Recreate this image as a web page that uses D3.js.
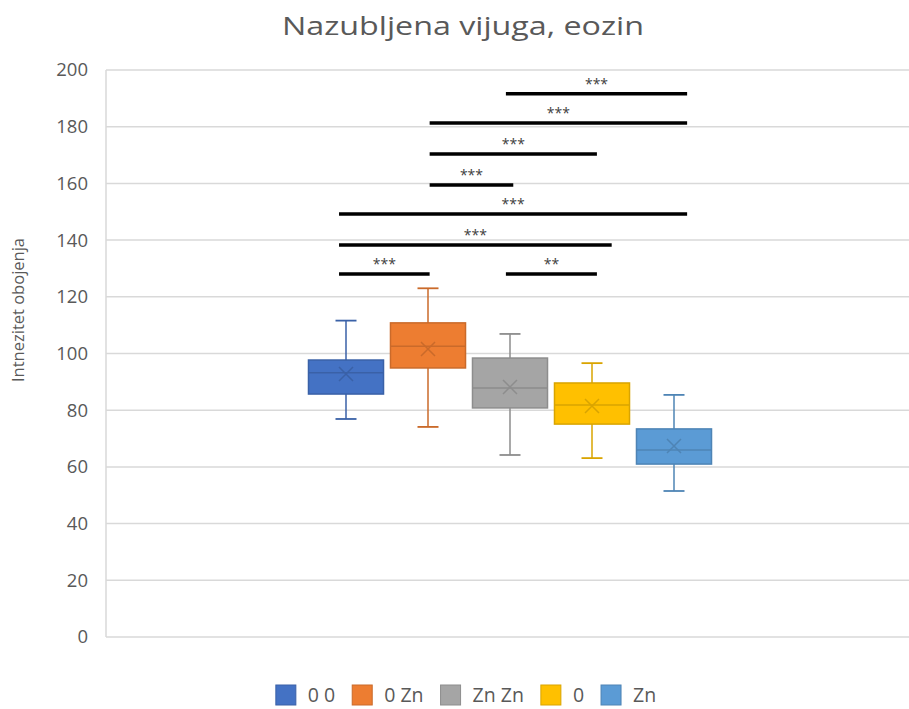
<!DOCTYPE html>
<html>
<head>
<meta charset="utf-8">
<script src="https://cdn.jsdelivr.net/npm/d3@7"></script>
<style>
  body { margin: 0; background: #fff; }
  text { font-family: "Open Sans", "Noto Sans", sans-serif; fill: #595959; }
</style>
</head>
<body>
<svg id="chart" width="909" height="709"></svg>
<script>
const series = ['0 0', '0 Zn', 'Zn Zn', '0', 'Zn'];
const seriesColors = ['#4472C4', '#ED7D31', '#A5A5A5', '#FFC000', '#5B9BD5'];
// box stats: whisker low, q1, median, q3, whisker high, mean
const whiskerLow = [76.9, 74.1, 64.2, 63.1, 51.5];
const q1 = [85.7, 94.9, 80.8, 75.1, 61.0];
const median = [93.2, 102.6, 87.8, 81.8, 66.0];
const q3 = [97.7, 110.8, 98.4, 89.6, 73.4];
const whiskerHigh = [111.6, 123.0, 106.9, 96.6, 85.4];
const means = [92.8, 101.6, 88.2, 81.5, 67.4];

const yTicks = [0, 20, 40, 60, 80, 100, 120, 140, 160, 180, 200];

// significance bars: start/end in series-index units, height in value units
const sigFrom = [1.95, 1.02, 1.02, 1.02, -0.085, -0.085, -0.085, 1.95];
const sigTo = [4.16, 4.16, 3.06, 2.04, 4.16, 3.24, 1.02, 3.06];
const sigY = [191.6, 181.3, 170.4, 159.4, 149.2, 138.3, 128.0, 128.0];
const sigLabel = ['***', '***', '***', '***', '***', '***', '***', '**'];

var svg = d3.select('#chart');
var plotLeft = 106, plotRight = 914, plotTop = 70, plotBottom = 637;

var ys = d3.scaleLinear().domain([0, 200]).range([plotBottom, plotTop]);
var xg = d3.scaleBand().domain(['']).range([plotLeft, plotRight]).paddingOuter(0.97);
var groupCenter = xg('') + xg.bandwidth() / 2;
var xs = d3.scaleBand().domain(series).range([groupCenter - 205, groupCenter + 205]).paddingInner(0.085).paddingOuter(0.0425);
var xi = d3.scaleLinear().domain([0, 1]).range([xs(series[0]) + xs.bandwidth() / 2, xs(series[1]) + xs.bandwidth() / 2]);

// title
svg.append('text')
    .attr('x', 463).attr('y', 35)
    .attr('text-anchor', 'middle')
    .attr('textLength', 362).attr('lengthAdjust', 'spacingAndGlyphs')
    .style('font-size', '26px')
    .text('Nazubljena vijuga, eozin');

// gridlines
svg.append('g').selectAll('line').data(yTicks).enter().append('line')
    .attr('x1', plotLeft).attr('x2', plotRight)
    .attr('y1', function (d) { return ys(d); })
    .attr('y2', function (d) { return ys(d); })
    .attr('stroke', '#d9d9d9').attr('stroke-width', 1.5);

// left axis line
svg.append('line')
    .attr('x1', plotLeft).attr('x2', plotLeft).attr('y1', plotTop).attr('y2', plotBottom)
    .attr('stroke', '#d9d9d9').attr('stroke-width', 1.5);

var yAxis = svg.append('g').attr('transform', 'translate(' + plotLeft + ',0)')
    .call(d3.axisLeft(ys).tickValues(yTicks).tickSize(0).tickPadding(18));
yAxis.select('.domain').remove();
yAxis.selectAll('text').style('font-size', '18.5px').style('fill', '#595959')
    .style('font-family', '"Open Sans", sans-serif');

svg.append('text')
    .attr('transform', 'translate(24,310) rotate(-90)')
    .attr('text-anchor', 'middle')
    .style('font-size', '16.5px')
    .text('Intnezitet obojenja');

// boxes
var bw = xs.bandwidth();
svg.append('g').selectAll('g').data(series).enter().append('g')
    .each(function (s, i) {
        var g = d3.select(this);
        var cx = xs(s) + bw / 2;
        var c = seriesColors[i];
        var dark = d3.color(c).darker(0.45).formatHex();
        g.append('line')
            .attr('x1', cx).attr('x2', cx)
            .attr('y1', ys(whiskerHigh[i])).attr('y2', ys(whiskerLow[i]))
            .attr('stroke', dark).attr('stroke-width', 1.5);
        [whiskerHigh[i], whiskerLow[i]].forEach(function (v) {
            g.append('line')
                .attr('x1', cx - 10.5).attr('x2', cx + 10.5)
                .attr('y1', ys(v)).attr('y2', ys(v))
                .attr('stroke', dark).attr('stroke-width', 1.8);
        });
        g.append('rect')
            .attr('x', xs(s)).attr('width', bw)
            .attr('y', ys(q3[i])).attr('height', ys(q1[i]) - ys(q3[i]))
            .attr('fill', c).attr('stroke', dark).attr('stroke-width', 1.5);
        g.append('line')
            .attr('x1', xs(s)).attr('x2', xs(s) + bw)
            .attr('y1', ys(median[i])).attr('y2', ys(median[i]))
            .attr('stroke', dark).attr('stroke-width', 1.5);
        var my = ys(means[i]);
        g.append('path')
            .attr('d', 'M' + (cx - 7) + ',' + (my - 7) + 'L' + (cx + 7) + ',' + (my + 7) +
                       'M' + (cx - 7) + ',' + (my + 7) + 'L' + (cx + 7) + ',' + (my - 7))
            .attr('stroke', dark).attr('stroke-width', 1.5).attr('fill', 'none');
    });

// significance bars
var sig = svg.append('g').selectAll('g').data(sigY).enter().append('g');
sig.append('line')
    .attr('x1', function (d, i) { return xi(sigFrom[i]); })
    .attr('x2', function (d, i) { return xi(sigTo[i]); })
    .attr('y1', function (d) { return ys(d); })
    .attr('y2', function (d) { return ys(d); })
    .attr('stroke', '#000').attr('stroke-width', 3.5);
sig.append('text')
    .attr('x', function (d, i) { return (xi(sigFrom[i]) + xi(sigTo[i])) / 2; })
    .attr('y', function (d) { return ys(d) - 5; })
    .attr('text-anchor', 'middle')
    .style('font-size', '14px')
    .style('fill', '#404040')
    .text(function (d, i) { return sigLabel[i]; });

// legend
var legend = svg.append('g');
var lx = 0;
series.forEach(function (s, i) {
    legend.append('rect')
        .attr('x', lx).attr('y', -10).attr('width', 20).attr('height', 20)
        .attr('fill', seriesColors[i])
        .attr('stroke', d3.color(seriesColors[i]).darker(0.45).formatHex()).attr('stroke-width', 1);
    var t = legend.append('text')
        .attr('x', lx + 32).attr('y', 7)
        .style('font-size', '19.5px')
        .text(s);
    lx += 32 + t.node().getComputedTextLength() + 17;
});
var lw = lx - 17;
legend.attr('transform', 'translate(' + (466 - lw / 2) + ',695)');
</script>
</body>
</html>
